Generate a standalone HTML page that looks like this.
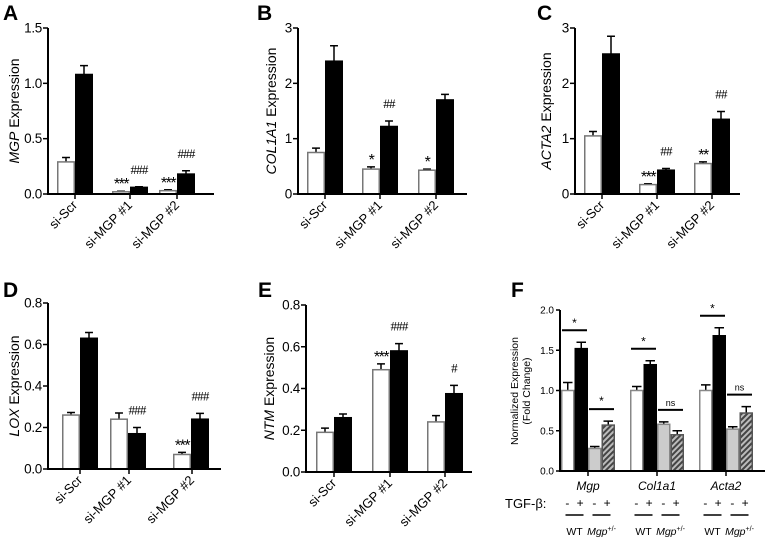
<!DOCTYPE html>
<html><head><meta charset="utf-8"><style>
html,body{margin:0;padding:0;background:#fff;}
svg{display:block;font-family:"Liberation Sans",Arial,sans-serif;}
</style></head><body>
<svg id="fig" width="765" height="538" viewBox="0 0 765 538" xmlns="http://www.w3.org/2000/svg">
<defs>
<pattern id="hatch" patternUnits="userSpaceOnUse" width="4" height="4" patternTransform="rotate(45)">
<rect width="4" height="4" fill="#bbb"/><rect width="2" height="4" fill="#444"/>
</pattern>
</defs>
</svg>
<script>
// ---- data ----
const categoriesAE = ["si-Scr","si-MGP #1","si-MGP #2"];
const aWhite=[0.29,0.02,0.03], aWhiteErr=[0.04,0.005,0.008];
const aBlack=[1.08,0.06,0.18], aBlackErr=[0.08,0.005,0.03];
const aTicks=[0,0.5,1.0,1.5], aTickLabels=["0.0","0.5","1.0","1.5"];
const aSig=[["",""],["***","###"],["***","###"]];
const bWhite=[0.75,0.45,0.43], bWhiteErr=[0.08,0.04,0.02];
const bBlack=[2.4,1.22,1.7], bBlackErr=[0.28,0.1,0.1];
const bTicks=[0,1,2,3], bTickLabels=["0","1","2","3"];
const bSig=[["",""],["*","##"],["*",""]];
const cWhite=[1.05,0.17,0.55], cWhiteErr=[0.08,0.015,0.03];
const cBlack=[2.53,0.43,1.35], cBlackErr=[0.32,0.03,0.14];
const cTicks=[0,1,2,3], cTickLabels=["0","1","2","3"];
const cSig=[["",""],["***","##"],["**","##"]];
const dWhite=[0.26,0.24,0.07], dWhiteErr=[0.012,0.03,0.01];
const dBlack=[0.63,0.17,0.24], dBlackErr=[0.028,0.03,0.028];
const dTicks=[0,0.2,0.4,0.6,0.8], dTickLabels=["0.0","0.2","0.4","0.6","0.8"];
const dSig=[["",""],["","###"],["***","###"]];
const eWhite=[0.19,0.49,0.24], eWhiteErr=[0.02,0.028,0.03];
const eBlack=[0.26,0.58,0.375], eBlackErr=[0.018,0.035,0.04];
const eTicks=[0,0.2,0.4,0.6,0.8], eTickLabels=["0.0","0.2","0.4","0.6","0.8"];
const eSig=[["",""],["***","###"],["","#"]];
const fCategories=["Mgp","Col1a1","Acta2"];
const fWtMinus=[1.0,1.0,1.0], fWtMinusErr=[0.1,0.05,0.07];
const fWtPlus=[1.52,1.32,1.68], fWtPlusErr=[0.08,0.05,0.1];
const fHetMinus=[0.28,0.58,0.52], fHetMinusErr=[0.025,0.03,0.03];
const fHetPlus=[0.57,0.45,0.72], fHetPlusErr=[0.05,0.05,0.08];
const fTicks=[0,0.5,1.0,1.5,2.0], fTickLabels=["0.0","0.5","1.0","1.5","2.0"];
const fSigWT=["*","*","*"], fSigHet=["*","ns","ns"];

const NS="http://www.w3.org/2000/svg";
const svg=document.getElementById('fig');
function mk(tag,attrs,parent){const e=document.createElementNS(NS,tag);for(const k in attrs)e.setAttribute(k,attrs[k]);(parent||svg).appendChild(e);return e;}

function letter(t,x,y){const e=mk('text',{x:x,y:y,'font-size':21,'font-weight':'bold'});e.textContent=t;

}

function panel(p){
  const g=mk('g',{});
  
  
  const ys=v=>p.y0-(v/p.vmax)*(p.y0-p.ytop);
  p.series.forEach((s,si)=>{
    s.vals.forEach((v,gi)=>{
      const x=p.starts[gi]+si*p.bw;
      const y=ys(v);
      const ey=ys(v+s.err[gi]);
      const el=mk('path',{d:`M${x+p.bw/2},${y}V${ey}M${x+p.bw/2-p.bw*0.22},${ey}H${x+p.bw/2+p.bw*0.22}`,stroke:'#000','stroke-width':1.5,fill:'none'},g);
      
      
      const r=mk('rect',{x:x+0.75,y:y,width:p.bw-1.5,height:p.y0-y,fill:s.fill,stroke:s.stroke,'stroke-width':1.5},g);
      
      
      const mark=p.sig&&p.sig[gi]?p.sig[gi][si]:'';
      if(mark){
        const isHash=mark[0]==='#';
        const t=mk('text',{x:x+p.bw/2,y:isHash?ey-13:ey-2,'text-anchor':'middle','font-size':isHash?13:16,'letter-spacing':isHash?-0.8:-1.5,'font-family':isHash?'"Liberation Serif",serif':'"Liberation Sans",sans-serif'},g);
        t.textContent=mark;
        
        
      }
    });
  });
  const ax=mk('path',{d:`M${p.ax},${p.ytop}V${p.y0}H${p.xend}`,stroke:'#000','stroke-width':2,fill:'none'},g);
  
  
  p.ticks.forEach((tv,i)=>{
    const y=ys(tv);
    mk('path',{d:`M${p.ax-5},${y}H${p.ax}`,stroke:'#000','stroke-width':1.5},g);
    const t=mk('text',{x:p.ax-6,y:y+4.5,'text-anchor':'end','font-size':13.5,'letter-spacing':-0.3},g);
    t.textContent=p.tickLabels[i];
    
    
  });
  p.xticks.forEach((xt,i)=>{
    mk('path',{d:`M${xt},${p.y0}V${p.y0+5}`,stroke:'#000','stroke-width':1.5},g);
    const t=mk('text',{x:xt+3,y:p.y0+12,'text-anchor':'end','font-size':13,transform:`rotate(-45 ${xt+3} ${p.y0+12})`},g);
    t.textContent=p.cats[i];
    
    
  });
  const yt=mk('text',{x:p.ylx,y:(p.ytop+p.y0)/2,'text-anchor':'middle','font-size':14,transform:`rotate(-90 ${p.ylx} ${(p.ytop+p.y0)/2})`},g);
  yt.innerHTML=`<tspan font-style="italic">${p.gene}</tspan> Expression`;
  
  
}
const W={name:'white',fill:'#fff',stroke:'#777'}, B={name:'black',fill:'#000',stroke:'#000'};
function ser(w,we,b,be){return [Object.assign({vals:w,err:we},W),Object.assign({vals:b,err:be},B)];}
const bw=18;
panel({id:'a',gene:'MGP',ax:48,ytop:28,y0:194,xend:214,vmax:1.5,bw:bw,starts:[57,112,159],xticks:[75,130,177],series:ser(aWhite,aWhiteErr,aBlack,aBlackErr),ticks:aTicks,tickLabels:aTickLabels,sig:aSig,cats:categoriesAE,ylx:19});
panel({id:'b',gene:'COL1A1',ax:298,ytop:28,y0:194,xend:467,vmax:3,bw:bw,starts:[307,362,418],xticks:[325,380,436],series:ser(bWhite,bWhiteErr,bBlack,bBlackErr),ticks:bTicks,tickLabels:bTickLabels,sig:bSig,cats:categoriesAE,ylx:276});
panel({id:'c',gene:'ACTA2',ax:575,ytop:28,y0:194,xend:740,vmax:3,bw:bw,starts:[584,639,694],xticks:[602,657,712],series:ser(cWhite,cWhiteErr,cBlack,cBlackErr),ticks:cTicks,tickLabels:cTickLabels,sig:cSig,cats:categoriesAE,ylx:551});
panel({id:'d',gene:'LOX',ax:48,ytop:303,y0:469,xend:221,vmax:0.8,bw:bw,starts:[62,110,173],xticks:[80,129,192],series:ser(dWhite,dWhiteErr,dBlack,dBlackErr),ticks:dTicks,tickLabels:dTickLabels,sig:dSig,cats:categoriesAE,ylx:19});
panel({id:'e',gene:'NTM',ax:306,ytop:305,y0:472,xend:472,vmax:0.8,bw:bw,starts:[316,372,427],xticks:[334,390,445],series:ser(eWhite,eWhiteErr,eBlack,eBlackErr),ticks:eTicks,tickLabels:eTickLabels,sig:eSig,cats:categoriesAE,ylx:274});
letter('A',3,20);letter('B',257,20);letter('C',537,20);letter('D',3,297);letter('E',258,297);letter('F',511,297);

(function(){
  const ax=560,y0=471,ytop=310,vmax=2,fbw=13.5,xend=765;
  const ys=v=>y0-(v/vmax)*(y0-ytop);
  const starts=[561,630,699];
  const series=[
    {name:'wt-minus',vals:fWtMinus,err:fWtMinusErr,fill:'#fff',stroke:'#888'},
    {name:'wt-plus',vals:fWtPlus,err:fWtPlusErr,fill:'#000',stroke:'#000'},
    {name:'het-minus',vals:fHetMinus,err:fHetMinusErr,fill:'#ccc',stroke:'#888'},
    {name:'het-plus',vals:fHetPlus,err:fHetPlusErr,fill:'url(#hatch)',stroke:'#555'}];
  const g=mk('g',{});
  
  
  series.forEach((s,si)=>{s.vals.forEach((v,gi)=>{
    const x=starts[gi]+si*fbw, y=ys(v), ey=ys(v+s.err[gi]);
    mk('path',{d:`M${x+fbw/2},${y}V${ey}M${x+2},${ey}H${x+fbw-2}`,stroke:'#000','stroke-width':1.5,fill:'none'},g);
    const r=mk('rect',{x:x+0.75,y:y,width:fbw-1.5,height:y0-y,fill:s.fill,stroke:s.stroke,'stroke-width':1.5},g);
    
    
  });});
  fCategories.forEach((c,gi)=>{
    const x=starts[gi];
    const top1=ys(fWtPlus[gi]+fWtPlusErr[gi])-12;
    mk('path',{d:`M${x+1},${top1}H${x+2*fbw-1}`,stroke:'#000','stroke-width':2},g);
    const t1=mk('text',{x:x+fbw,y:top1-3,'text-anchor':'middle','font-size':12},g);t1.textContent=fSigWT[gi];
    
    
    const m=Math.max(fHetMinus[gi]+fHetMinusErr[gi],fHetPlus[gi]+fHetPlusErr[gi]);
    const top2=ys(m)-12;
    mk('path',{d:`M${x+2*fbw+1},${top2}H${x+4*fbw-1}`,stroke:'#000','stroke-width':2},g);
    const t2=mk('text',{x:x+3*fbw,y:top2-4,'text-anchor':'middle','font-size':fSigHet[gi]=='ns'?9:12},g);t2.textContent=fSigHet[gi];
    
    
    const cx=x+2*fbw;
    mk('path',{d:`M${cx},${y0}V${y0+5}`,stroke:'#000','stroke-width':1.5},g);
    const cl=mk('text',{x:cx,y:490,'text-anchor':'middle','font-size':12,'font-style':'italic'},g);cl.textContent=c;
    
    
    [[x+fbw,'WT',false],[x+3*fbw,'Mgp',true]].forEach(([px,lab,it])=>{
      const pm=mk('text',{x:px,y:507,'text-anchor':'middle','font-size':12,'word-spacing':4},g);pm.textContent='- +';
      
      
      mk('path',{d:`M${px-9},515H${px+9}`,stroke:'#000','stroke-width':1.5},g);
      const gl=mk('text',{x:px,y:535,'text-anchor':'middle','font-size':10.5},g);
      if(it){gl.innerHTML='<tspan font-style="italic">Mgp</tspan><tspan font-size="7" dy="-4">+/-</tspan>';}else gl.textContent=lab;
      
      
    });
  });
  const a=mk('path',{d:`M${ax},${ytop}V${y0}H${xend}`,stroke:'#000','stroke-width':2,fill:'none'},g);
  
  
  fTicks.forEach((tv,i)=>{const y=ys(tv);
    mk('path',{d:`M${ax-4},${y}H${ax}`,stroke:'#000','stroke-width':1.5},g);
    const t=mk('text',{x:ax-6,y:y+3.5,'text-anchor':'end','font-size':10},g);t.textContent=fTickLabels[i];
    
    });
  const yt=mk('text',{x:518,y:391,'text-anchor':'middle','font-size':10.5,transform:'rotate(-90 518 391)'},g);
  yt.innerHTML='<tspan x="518" dy="0">Normalized Expression</tspan><tspan x="518" dy="12">(Fold Change)</tspan>';
  
  
  const tg=mk('text',{x:505,y:508,'font-size':13},g);tg.textContent='TGF-β:';
  
  
})();
</script>
</body></html>
